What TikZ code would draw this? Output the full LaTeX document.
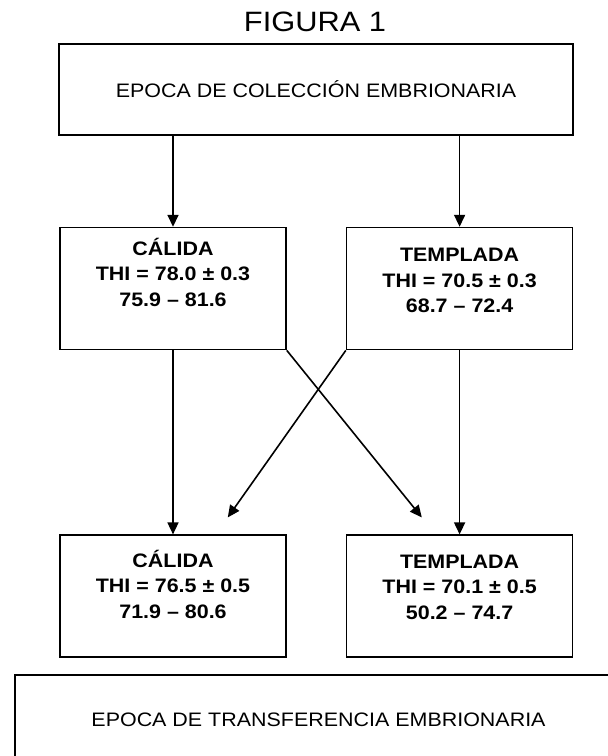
\documentclass[tikz,border=0pt]{standalone}
\usepackage{fontspec}
\setmainfont{Liberation Sans}[FakeStretch=1.1]
\usetikzlibrary{positioning,arrows.meta}
\tikzstyle{zone}=[draw,rectangle,minimum width=226pt,minimum height=122pt,inner sep=0pt,align=center,font=\bfseries\fontsize{19.5}{25.5}\selectfont]
\tikzstyle{epoch}=[draw,rectangle,minimum width=514pt,minimum height=91pt,font=\fontsize{19.5}{24}\selectfont]
\newcommand{\newZone}[4]{\node[zone,#3](#1)[#4]{#2\\\strut};}
\newcommand{\newArrow}[2]{\draw[->] (#1) -- (#2);}

\begin{document}
\begin{tikzpicture}[x=1pt,y=1pt,node distance=184pt and 59pt,
      >={Triangle[length=12pt,width=11pt]},
      line width=1.6pt
      ]
      \useasboundingbox (0,0) rectangle (608,-756);
      \clip (0,0) rectangle (608,-756);
      \node[font=\fontsize{28}{32}\selectfont] (title) at (315,-22) {FIGURA 1};
      \node[epoch] (coll) at (316,-89.5) {EPOCA DE COLECCIÓN EMBRIONARIA};
      % first season: collection
      \newZone{c1}{CÁLIDA\\THI = 78.0 ± 0.3\\75.9 – 81.6}{below right=91pt and 1pt of coll.south west}{}
      \newZone{t1}{\rule{0pt}{30pt}TEMPLADA\\THI = 70.5 ± 0.3\\68.7 – 72.4}{right=of c1}{}
      % second season: transfer
      \newZone{c2}{\rule{0pt}{26pt}CÁLIDA\\THI = 76.5 ± 0.5\\71.9 – 80.6}{below=of c1}{}
      \newZone{t2}{\rule{0pt}{28pt}TEMPLADA\\THI = 70.1 ± 0.5\\50.2 – 74.7}{right=of c2}{}
      \node[epoch,minimum width=607pt,minimum height=90pt,below=16pt of c2.south west,anchor=north west,xshift=-45pt] (transf) {EPOCA DE TRANSFERENCIA EMBRIONARIA};
      \coordinate[above right=17pt and 76pt of t2.north west] (tipR);
      \coordinate[above left=17pt and 59pt of c2.north east] (tipL);
      \newArrow{coll.south -| c1.north}{c1.north}
      \newArrow{coll.south -| t1.north}{t1.north}
      \newArrow{c1.south}{c2.north}
      \newArrow{t1.south}{t2.north}
      \newArrow{c1.south east}{tipR}
      \newArrow{t1.south west}{tipL}
    \end{tikzpicture}
\end{document}
